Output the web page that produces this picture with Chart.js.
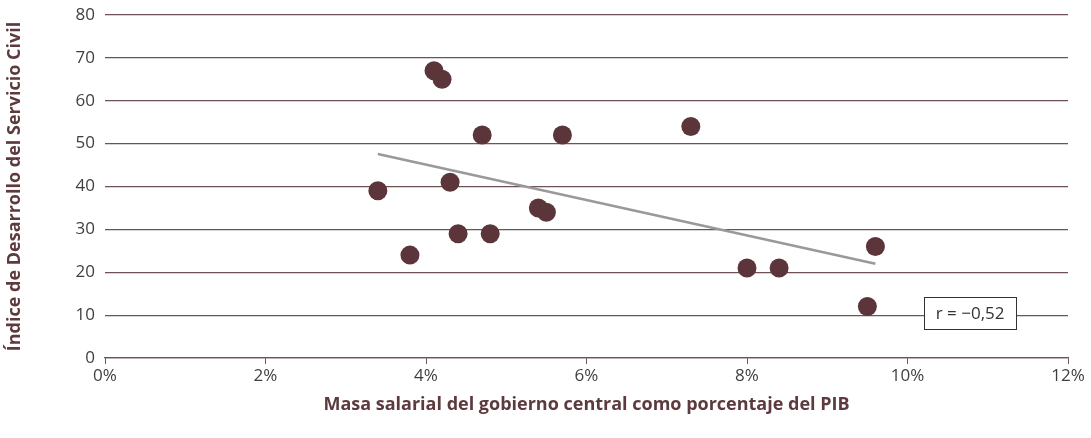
<!DOCTYPE html>
<html><head><meta charset="utf-8">
<script src="https://cdn.jsdelivr.net/npm/chart.js@4/dist/chart.umd.min.js"></script>
<style>html,body{margin:0;padding:0;background:#fff}#wrap{width:1091px;height:438px;position:relative}</style>
</head><body><div id="wrap"><canvas id="c"></canvas></div>
<script>
const wageBill = [3.4, 3.8, 4.1, 4.2, 4.3, 4.4, 4.7, 4.8, 5.4, 5.5, 5.7, 7.3, 8.0, 8.4, 9.5, 9.6];
const civilServiceIndex = [39, 24, 67, 65, 41, 29, 52, 29, 35, 34, 52, 54, 21, 21, 12, 26];
const trendX = [3.4, 9.6];
const trendY = [47.6, 22.0];
const xTicks = [0, 2, 4, 6, 8, 10, 12];
const yTicks = [0, 10, 20, 30, 40, 50, 60, 70, 80];
const corrLabel = 'r = \u22120,52';
const corrPos = [10.78, 10.5];
const xTitle = 'Masa salarial del gobierno central como porcentaje del PIB';
const yTitle = 'Índice de Desarrollo del Servicio Civil';

const brown = '#5b3539';
const titleColor = '#5c3a3e';
const tickColor = '#3f3f3f';
const fontFam = "'Open Sans', 'Noto Sans', sans-serif";

const corrPlugin = {
  id: 'corr',
  afterDatasetsDraw(chart) {
    const ctx = chart.ctx, xs = chart.scales.x, ys = chart.scales.y;
    const cx = xs.getPixelForValue(corrPos[0]), cy = ys.getPixelForValue(corrPos[1]);
    ctx.save();
    ctx.font = "17px " + fontFam;
    const w = 92, h = 32;
    ctx.fillStyle = '#fff';
    ctx.fillRect(cx - w/2, cy - h/2, w, h);
    ctx.strokeStyle = '#333';
    ctx.lineWidth = 1;
    ctx.strokeRect(Math.round(cx - w/2) + 0.5, Math.round(cy - h/2) + 0.5, w, h);
    ctx.fillStyle = '#333';
    ctx.textAlign = 'center';
    ctx.textBaseline = 'middle';
    ctx.fillText(corrLabel, cx, cy + 1);
    ctx.restore();
  }
};

new Chart(document.getElementById('c'), {
  type: 'scatter',
  data: {
    datasets: [
      {
        type: 'line',
        data: trendX.map((x, i) => ({x, y: trendY[i]})),
        borderColor: '#999999',
        borderWidth: 2.5,
        pointRadius: 0,
        fill: false,
        order: 2
      },
      {
        data: wageBill.map((x, i) => ({x, y: civilServiceIndex[i]})),
        backgroundColor: brown,
        borderColor: brown,
        pointRadius: 9.5,
        pointHoverRadius: 9.5,
        borderWidth: 0,
        order: 1
      }
    ]
  },
  options: {
    responsive: true,
    maintainAspectRatio: false,
    animation: false,
    events: [],
    layout: { padding: { top: 15, right: 23, left: 0, bottom: 22 } },
    plugins: { legend: { display: false }, tooltip: { enabled: false } },
    scales: {
      x: {
        type: 'linear', min: 0, max: 12,
        afterBuildTicks(s) { s.ticks = xTicks.map(v => ({value: v})); },
        afterFit(s) { s.height = 58; s.paddingLeft = 0; s.paddingRight = 0; },
        ticks: { callback: v => v + '%', color: tickColor, font: { family: fontFam, size: 17 }, padding: 2, maxRotation: 0 },
        grid: { display: true, drawOnChartArea: false, drawTicks: true, tickLength: 6, color: '#6e5256', tickColor: '#6e5256' },
        border: { display: true, color: '#6e5256', width: 1.3 },
        title: { display: true, text: xTitle, color: titleColor, font: { family: fontFam, size: 18, weight: 'bold' }, padding: { top: 12, bottom: 0 } }
      },
      y: {
        type: 'linear', min: 0, max: 80,
        afterBuildTicks(s) { s.ticks = yTicks.map(v => ({value: v})); },
        afterFit(s) { s.width = 105; s.paddingTop = 0; s.paddingBottom = 0; },
        ticks: { color: tickColor, font: { family: fontFam, size: 17 }, padding: 10 },
        grid: { color: '#6e5256', lineWidth: 1.2, drawTicks: false },
        border: { display: false },
        title: { display: true, text: yTitle, color: titleColor, font: { family: fontFam, size: 18, weight: 'bold' }, padding: { top: 4, bottom: 0 } }
      }
    }
  },
  plugins: [corrPlugin]
});
</script></body></html>
